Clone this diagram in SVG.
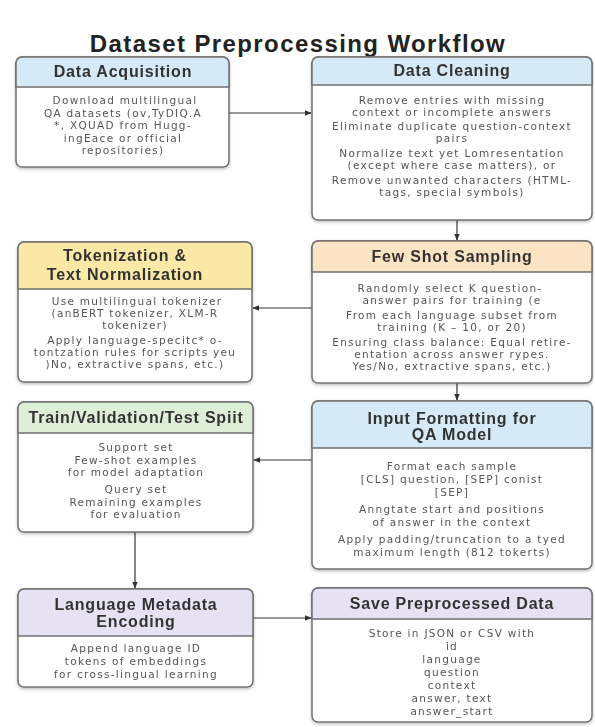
<svg xmlns="http://www.w3.org/2000/svg" width="595" height="727" viewBox="0 0 595 727">
<defs>
<marker id="ah" viewBox="0 0 10 10" refX="9" refY="5" markerWidth="7" markerHeight="7" orient="auto" markerUnits="userSpaceOnUse">
<path d="M0,1 L10,5 L0,9 z" fill="#333"/>
</marker>
<filter id="sh" x="-5%" y="-5%" width="110%" height="115%">
<feDropShadow dx="0" dy="1.5" stdDeviation="1.5" flood-color="#000" flood-opacity="0.25"/>
</filter>
</defs>
<style>
.box{fill:#fff;stroke:#707070;stroke-width:1.5}
.title{font-family:"Liberation Sans",Arial,sans-serif;font-weight:bold;font-size:24px;letter-spacing:1.4px;fill:#222;text-anchor:middle}
.hd{font-family:"Liberation Sans",Arial,sans-serif;font-weight:bold;font-size:16px;letter-spacing:0.8px;fill:#333;text-anchor:middle}
.bd{font-family:"DejaVu Sans",Verdana,sans-serif;font-size:10.5px;letter-spacing:1.3px;fill:#555;text-anchor:middle}
.cn{stroke:#333;stroke-width:1.2;fill:none;marker-end:url(#ah)}
</style>
<rect width="595" height="727" fill="#fff"/>
<text class="title" x="298" y="52">Dataset Preprocessing Workflow</text>

<g id="connectors">
<line class="cn" x1="229" y1="113" x2="311" y2="113"/>
<line class="cn" x1="457" y1="220" x2="457" y2="240"/>
<line class="cn" x1="312" y1="308" x2="253" y2="308"/>
<line class="cn" x1="457" y1="383" x2="457" y2="400"/>
<line class="cn" x1="312" y1="460" x2="254" y2="460"/>
<line class="cn" x1="135" y1="532" x2="135" y2="588"/>
<line class="cn" x1="253" y1="618" x2="311" y2="618"/>
</g>

<g id="data-acquisition" filter="url(#sh)">
<rect class="box" x="16" y="57" width="213" height="110" rx="6"/>
<path d="M16,87 V63 a6,6 0 0 1 6,-6 H223 a6,6 0 0 1 6,6 V87 z" fill="#d5e9f6" stroke="#707070" stroke-width="1.5"/>
<text class="hd" x="123" y="77">Data Acquisition</text>
<text class="bd" x="125" y="104">Download multilingual</text>
<text class="bd" x="123" y="116.5">QA datasets (ov,TyDIQ.A</text>
<text class="bd" x="123" y="129">*, XQUAD from Hugg-</text>
<text class="bd" x="123" y="141.5">ingEace or official</text>
<text class="bd" x="123" y="154">repositories)</text>
</g>

<g id="data-cleaning" filter="url(#sh)">
<rect class="box" x="312" y="57" width="280" height="163" rx="6"/>
<path d="M312,85 V63 a6,6 0 0 1 6,-6 H586 a6,6 0 0 1 6,6 V85 z" fill="#d5e9f6" stroke="#707070" stroke-width="1.5"/>
<text class="hd" x="452" y="76">Data Cleaning</text>
<text class="bd" x="452" y="104">Remove entries with missing</text>
<text class="bd" x="452" y="116">context or incomplete answers</text>
<text class="bd" x="452" y="130">Eliminate duplicate question-context</text>
<text class="bd" x="452" y="142">pairs</text>
<text class="bd" x="452" y="157">Normalize text yet Lomresentation</text>
<text class="bd" x="452" y="169">(except where case matters), or</text>
<text class="bd" x="452" y="184">Remove unwanted characters (HTML-</text>
<text class="bd" x="452" y="196">tags, special symbols)</text>
</g>

<g id="few-shot-sampling" filter="url(#sh)">
<rect class="box" x="312" y="241" width="280" height="142" rx="6" fill="#fffdf8"/>
<path d="M312,272 V247 a6,6 0 0 1 6,-6 H586 a6,6 0 0 1 6,6 V272 z" fill="#fbe3c3" stroke="#707070" stroke-width="1.5"/>
<text class="hd" x="452" y="262">Few Shot Sampling</text>
<text class="bd" x="450" y="292">Randomly select K question-</text>
<text class="bd" x="452" y="304">answer pairs for training (e</text>
<text class="bd" x="452" y="319">From each language subset from</text>
<text class="bd" x="452" y="331">training (K – 10, or 20)</text>
<text class="bd" x="452" y="346">Ensuring class balance: Equal retire-</text>
<text class="bd" x="452" y="358">entation across answer rypes.</text>
<text class="bd" x="452" y="370">Yes/No, extractive spans, etc.)</text>
</g>

<g id="tokenization" filter="url(#sh)">
<rect class="box" x="18" y="242" width="234" height="140" rx="6" fill="#fffdf6"/>
<path d="M18,289 V248 a6,6 0 0 1 6,-6 H246 a6,6 0 0 1 6,6 V289 z" fill="#fae9a6" stroke="#707070" stroke-width="1.5"/>
<text class="hd" x="125" y="261">Tokenization &amp;</text>
<text class="hd" x="125" y="280">Text Normalization</text>
<text class="bd" x="137" y="305">Use multilingual tokenizer</text>
<text class="bd" x="135" y="317">(anBERT tokenizer, XLM-R</text>
<text class="bd" x="135" y="329">tokenizer)</text>
<text class="bd" x="135" y="344">Apply language-specitc* o-</text>
<text class="bd" x="135" y="356">tontzation rules for scripts yeu</text>
<text class="bd" x="135" y="368">)No, extractive spans, etc.)</text>
</g>

<g id="train-split" filter="url(#sh)">
<rect class="box" x="18" y="402" width="235" height="130" rx="6"/>
<path d="M18,433 V408 a6,6 0 0 1 6,-6 H247 a6,6 0 0 1 6,6 V433 z" fill="#ddefd6" stroke="#707070" stroke-width="1.5"/>
<text class="hd" x="136" y="423">Train/Validation/Test Spiit</text>
<text class="bd" x="136" y="451">Support set</text>
<text class="bd" x="136" y="463.5">Few-shot examples</text>
<text class="bd" x="136" y="476">for model adaptation</text>
<text class="bd" x="136" y="493">Query set</text>
<text class="bd" x="136" y="505.5">Remaining examples</text>
<text class="bd" x="136" y="518">for evaluation</text>
</g>

<g id="input-formatting" filter="url(#sh)">
<rect class="box" x="312" y="401" width="280" height="168" rx="6"/>
<path d="M312,448 V407 a6,6 0 0 1 6,-6 H586 a6,6 0 0 1 6,6 V448 z" fill="#d5e9f6" stroke="#707070" stroke-width="1.5"/>
<text class="hd" x="452" y="424">Input Formatting for</text>
<text class="hd" x="452" y="440">QA Model</text>
<text class="bd" x="452" y="470">Format each sample</text>
<text class="bd" x="452" y="483">[CLS] question, [SEP] conist</text>
<text class="bd" x="452" y="496">[SEP]</text>
<text class="bd" x="452" y="513">Anngtate start and positions</text>
<text class="bd" x="452" y="526">of answer in the context</text>
<text class="bd" x="452" y="543">Apply padding/truncation to a tyed</text>
<text class="bd" x="452" y="556">maximum length (812 tokerts)</text>
</g>

<g id="language-metadata" filter="url(#sh)">
<rect class="box" x="18" y="589" width="235" height="98" rx="6"/>
<path d="M18,636 V595 a6,6 0 0 1 6,-6 H247 a6,6 0 0 1 6,6 V636 z" fill="#e6e1f3" stroke="#707070" stroke-width="1.5"/>
<text class="hd" x="136" y="610">Language Metadata</text>
<text class="hd" x="136" y="627">Encoding</text>
<text class="bd" x="136" y="652">Append language ID</text>
<text class="bd" x="136" y="665">tokens of embeddings</text>
<text class="bd" x="136" y="678">for cross-lingual learning</text>
</g>

<g id="save-data" filter="url(#sh)">
<rect class="box" x="312" y="588" width="280" height="134" rx="6"/>
<path d="M312,619 V594 a6,6 0 0 1 6,-6 H586 a6,6 0 0 1 6,6 V619 z" fill="#e6e1f3" stroke="#707070" stroke-width="1.5"/>
<text class="hd" x="452" y="609">Save Preprocessed Data</text>
<text class="bd" x="452" y="637">Store in JSON or CSV with</text>
<text class="bd" x="452" y="650">id</text>
<text class="bd" x="452" y="663">language</text>
<text class="bd" x="452" y="676">question</text>
<text class="bd" x="452" y="689">context</text>
<text class="bd" x="452" y="702">answer, text</text>
<text class="bd" x="452" y="715">answer_start</text>
</g>
</svg>
